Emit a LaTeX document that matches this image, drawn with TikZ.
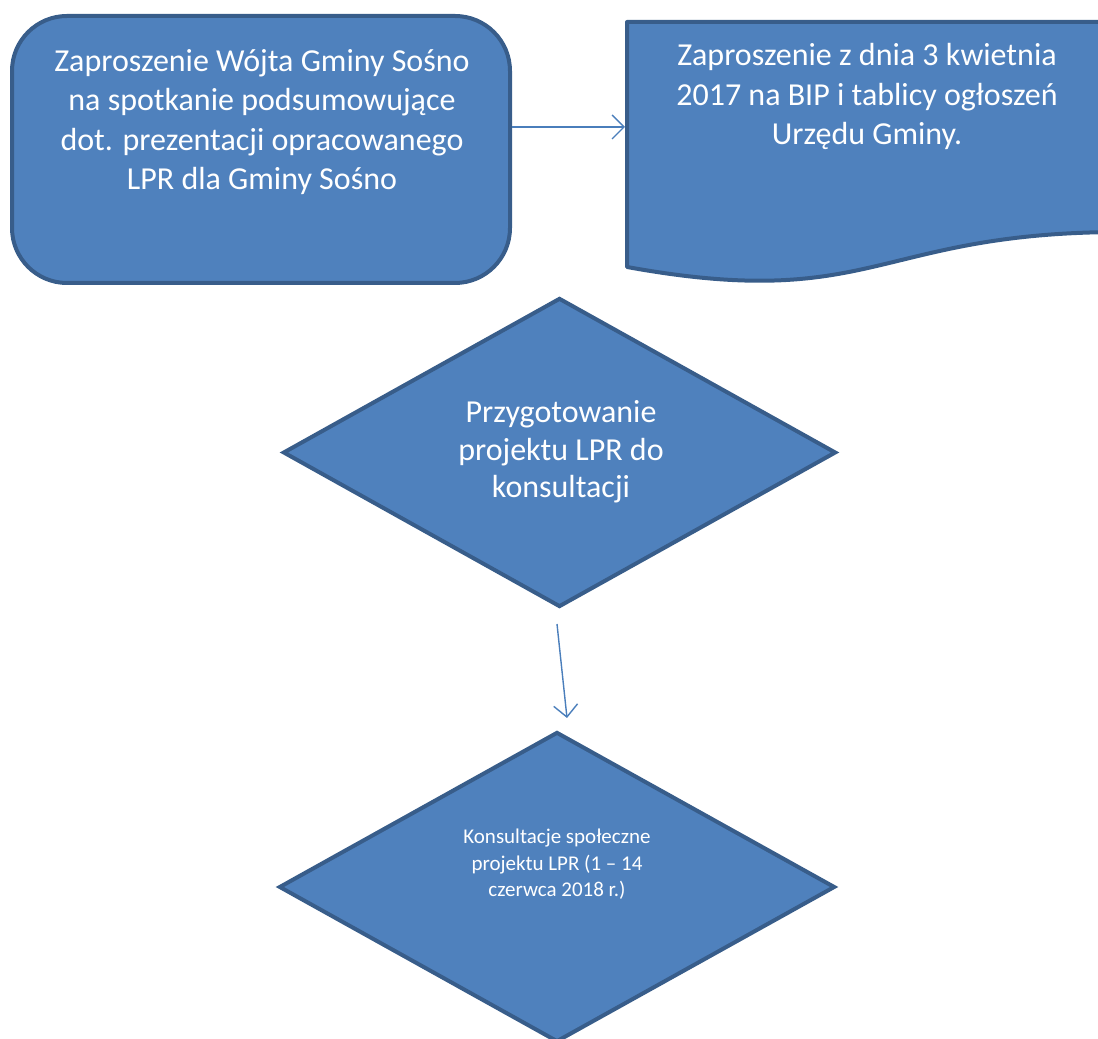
\documentclass[tikz,border=0pt]{standalone}
\usepackage{fontspec}
\setmainfont{Carlito}
\usetikzlibrary{shapes.geometric,arrows.meta}
\definecolor{fillblue}{HTML}{4F81BD}
\definecolor{edgeblue}{HTML}{385D8A}
\definecolor{linkblue}{HTML}{4A7EBB}
\tikzset{
  shapebox/.style={draw=edgeblue,fill=fillblue,line width=4pt},
  label32/.style={text=white,align=center,font=\fontsize{32}{39.3}\selectfont,inner sep=0pt},
  label30/.style={text=white,align=center,font=\fontsize{32}{37.5}\selectfont,inner sep=0pt},
  label20/.style={text=white,align=center,font=\fontsize{21}{26.5}\selectfont,inner sep=0pt},
  link/.style={draw=linkblue,line width=1.4pt,-{Straight Barb[length=12pt,width=24pt,line width=1.4pt]}}
}
\begin{document}
\begin{tikzpicture}[x=1pt,y=1pt]
\useasboundingbox (0,0) rectangle (1098,1039);
% rounded box
\node[shapebox,rectangle,rounded corners=55pt,minimum width=498pt,minimum height=267pt,inner sep=0pt] (box1) at (261,889.5) {};
\node[label32] (t1) at (262,917) {Zaproszenie Wójta Gminy Sośno\\na spotkanie podsumowujące\\dot. prezentacji opracowanego\\LPR dla Gminy Sośno};
% document shape
\draw[shapebox,line join=round] (627,1017) -- (1123,1017) -- (1123,807) .. controls (875,807) and (875,727) .. (627,772) -- cycle;
\coordinate (docL) at (625,912);
\node[label32] (t2) at (867,942.5) {Zaproszenie z dnia 3 kwietnia\\2017 na BIP i tablicy ogłoszeń\\Urzędu Gminy.};
% diamonds
\node[shapebox,diamond,minimum width=553pt,minimum height=309pt,inner sep=0pt] (d1) at (559.5,586.5) {};
\node[label30] (t3) at (561,587) {Przygotowanie\\projektu LPR do\\konsultacji};
\node[shapebox,diamond,minimum width=556pt,minimum height=310pt,inner sep=0pt] (d2) at (557,152) {};
\node[label20] (t4) at (557,174.5) {Konsultacje społeczne\\projektu LPR (1 – 14\\czerwca 2018 r.)};
% connectors
\draw[link] ([yshift=22.5pt]box1.east) -- (docL);
\draw[link] ([shift={(-2.5pt,-15pt)}]d1.south) -- ([shift={(10pt,12pt)}]d2.north);
\end{tikzpicture}
\end{document}
